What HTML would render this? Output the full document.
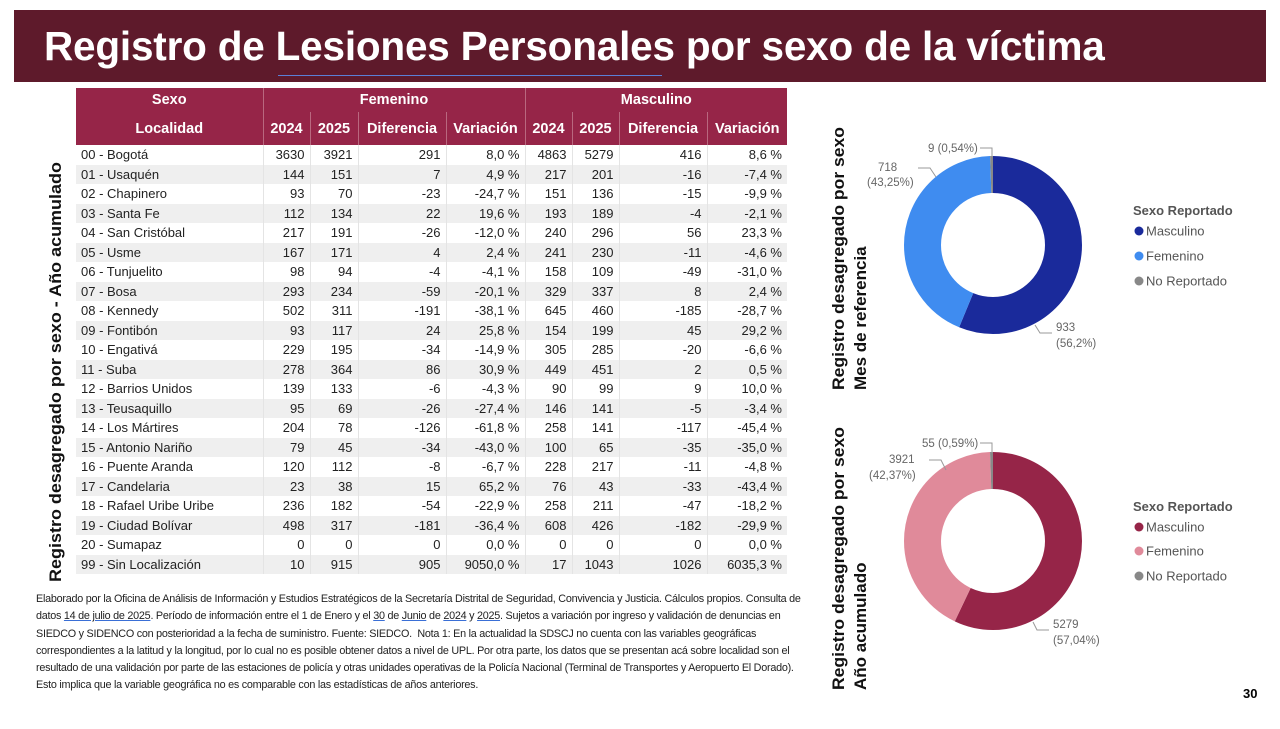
<!DOCTYPE html>
<html><head><meta charset="utf-8">
<style>
*{margin:0;padding:0;box-sizing:border-box}
body{width:1280px;height:729px;background:#fff;position:relative;overflow:hidden;font-family:"Liberation Sans",sans-serif}
.banner{position:absolute;left:14px;top:10px;width:1252px;height:72px;background:#5e1a2b}
.title{position:absolute;left:44px;top:23px;color:#fff;font-weight:bold;font-size:40.5px;white-space:nowrap;letter-spacing:-0.2px}
.uline{position:absolute;left:278px;top:75px;width:384px;height:1px;background:#5b7fd6}
table{position:absolute;left:76px;top:88px;border-collapse:collapse;font-size:13px;color:#222}
td,th{padding:0 5px;white-space:nowrap}
th{background:#962548;color:#fff;font-weight:bold;font-size:14.5px;height:24px}
thead tr:first-child th{height:24px}
thead tr:nth-child(2) th{height:33px;border-left:1px solid #b9687f}
tbody td{height:19.5px;text-align:right;border-left:1px solid #e4e4e4}
tbody td:first-child{text-align:left;border-left:none}
tbody tr:nth-child(even){background:#efefef}
.foot{position:absolute;left:36px;top:591px;font-size:10.8px;line-height:17.3px;color:#222;letter-spacing:-0.25px;white-space:nowrap}
.foot u{text-decoration-color:#3a6fd6}
.pg{position:absolute;left:1243px;top:686px;font-weight:bold;font-size:13px}
</style></head><body>
<div class="banner"></div>
<div class="title">Registro de Lesiones Personales por sexo de la víctima</div>
<div class="uline"></div>
<table>
<colgroup><col style="width:187px"><col style="width:47px"><col style="width:48px"><col style="width:88px"><col style="width:79px"><col style="width:47px"><col style="width:47px"><col style="width:88px"><col style="width:80px"></colgroup>
<thead>
<tr><th>Sexo</th><th colspan="4" style="border-left:1px solid #b9687f">Femenino</th><th colspan="4" style="border-left:1px solid #b9687f">Masculino</th></tr>
<tr><th style="border-left:none">Localidad</th><th>2024</th><th>2025</th><th>Diferencia</th><th>Variación</th><th>2024</th><th>2025</th><th>Diferencia</th><th>Variación</th></tr>
</thead>
<tbody>
<tr><td>00 - Bogotá</td><td>3630</td><td>3921</td><td>291</td><td>8,0 %</td><td>4863</td><td>5279</td><td>416</td><td>8,6 %</td></tr>
<tr><td>01 - Usaquén</td><td>144</td><td>151</td><td>7</td><td>4,9 %</td><td>217</td><td>201</td><td>-16</td><td>-7,4 %</td></tr>
<tr><td>02 - Chapinero</td><td>93</td><td>70</td><td>-23</td><td>-24,7 %</td><td>151</td><td>136</td><td>-15</td><td>-9,9 %</td></tr>
<tr><td>03 - Santa Fe</td><td>112</td><td>134</td><td>22</td><td>19,6 %</td><td>193</td><td>189</td><td>-4</td><td>-2,1 %</td></tr>
<tr><td>04 - San Cristóbal</td><td>217</td><td>191</td><td>-26</td><td>-12,0 %</td><td>240</td><td>296</td><td>56</td><td>23,3 %</td></tr>
<tr><td>05 - Usme</td><td>167</td><td>171</td><td>4</td><td>2,4 %</td><td>241</td><td>230</td><td>-11</td><td>-4,6 %</td></tr>
<tr><td>06 - Tunjuelito</td><td>98</td><td>94</td><td>-4</td><td>-4,1 %</td><td>158</td><td>109</td><td>-49</td><td>-31,0 %</td></tr>
<tr><td>07 - Bosa</td><td>293</td><td>234</td><td>-59</td><td>-20,1 %</td><td>329</td><td>337</td><td>8</td><td>2,4 %</td></tr>
<tr><td>08 - Kennedy</td><td>502</td><td>311</td><td>-191</td><td>-38,1 %</td><td>645</td><td>460</td><td>-185</td><td>-28,7 %</td></tr>
<tr><td>09 - Fontibón</td><td>93</td><td>117</td><td>24</td><td>25,8 %</td><td>154</td><td>199</td><td>45</td><td>29,2 %</td></tr>
<tr><td>10 - Engativá</td><td>229</td><td>195</td><td>-34</td><td>-14,9 %</td><td>305</td><td>285</td><td>-20</td><td>-6,6 %</td></tr>
<tr><td>11 - Suba</td><td>278</td><td>364</td><td>86</td><td>30,9 %</td><td>449</td><td>451</td><td>2</td><td>0,5 %</td></tr>
<tr><td>12 - Barrios Unidos</td><td>139</td><td>133</td><td>-6</td><td>-4,3 %</td><td>90</td><td>99</td><td>9</td><td>10,0 %</td></tr>
<tr><td>13 - Teusaquillo</td><td>95</td><td>69</td><td>-26</td><td>-27,4 %</td><td>146</td><td>141</td><td>-5</td><td>-3,4 %</td></tr>
<tr><td>14 - Los Mártires</td><td>204</td><td>78</td><td>-126</td><td>-61,8 %</td><td>258</td><td>141</td><td>-117</td><td>-45,4 %</td></tr>
<tr><td>15 - Antonio Nariño</td><td>79</td><td>45</td><td>-34</td><td>-43,0 %</td><td>100</td><td>65</td><td>-35</td><td>-35,0 %</td></tr>
<tr><td>16 - Puente Aranda</td><td>120</td><td>112</td><td>-8</td><td>-6,7 %</td><td>228</td><td>217</td><td>-11</td><td>-4,8 %</td></tr>
<tr><td>17 - Candelaria</td><td>23</td><td>38</td><td>15</td><td>65,2 %</td><td>76</td><td>43</td><td>-33</td><td>-43,4 %</td></tr>
<tr><td>18 - Rafael Uribe Uribe</td><td>236</td><td>182</td><td>-54</td><td>-22,9 %</td><td>258</td><td>211</td><td>-47</td><td>-18,2 %</td></tr>
<tr><td>19 - Ciudad Bolívar</td><td>498</td><td>317</td><td>-181</td><td>-36,4 %</td><td>608</td><td>426</td><td>-182</td><td>-29,9 %</td></tr>
<tr><td>20 - Sumapaz</td><td>0</td><td>0</td><td>0</td><td>0,0 %</td><td>0</td><td>0</td><td>0</td><td>0,0 %</td></tr>
<tr><td>99 - Sin Localización</td><td>10</td><td>915</td><td>905</td><td>9050,0 %</td><td>17</td><td>1043</td><td>1026</td><td>6035,3 %</td></tr>
</tbody></table>

<div class="foot">
Elaborado por la Oficina de Análisis de Información y Estudios Estratégicos de la Secretaría Distrital de Seguridad, Convivencia y Justicia. Cálculos propios. Consulta de<br>
datos <u>14 de julio de 2025</u>. Período de información entre el 1 de Enero y el <u>30</u> de <u>Junio</u> de <u>2024</u> y <u>2025</u>. Sujetos a variación por ingreso y validación de denuncias en<br>
SIEDCO y SIDENCO con posterioridad a la fecha de suministro. Fuente: SIEDCO.&nbsp; Nota 1: En la actualidad la SDSCJ no cuenta con las variables geográficas<br>
correspondientes a la latitud y la longitud, por lo cual no es posible obtener datos a nivel de UPL. Por otra parte, los datos que se presentan acá sobre localidad son el<br>
resultado de una validación por parte de las estaciones de policía y otras unidades operativas de la Policía Nacional (Terminal de Transportes y Aeropuerto El Dorado).<br>
Esto implica que la variable geográfica no es comparable con las estadísticas de años anteriores.
</div>
<div class="pg">30</div>

<svg width="1280" height="729" style="position:absolute;left:0;top:0" font-family="Liberation Sans, sans-serif">
<text transform="translate(61,582) rotate(-90)" font-size="17" font-weight="bold" fill="#111" textLength="420" lengthAdjust="spacingAndGlyphs">Registro desagregado por sexo - Año acumulado</text>
<text transform="translate(844,390) rotate(-90)" font-size="17" font-weight="bold" fill="#111" textLength="263" lengthAdjust="spacingAndGlyphs">Registro desagregado por sexo</text>
<text transform="translate(866,390) rotate(-90)" font-size="17" font-weight="bold" fill="#111">Mes de referencia</text>
<text transform="translate(844,690) rotate(-90)" font-size="17" font-weight="bold" fill="#111" textLength="263" lengthAdjust="spacingAndGlyphs">Registro desagregado por sexo</text>
<text transform="translate(866,690) rotate(-90)" font-size="17" font-weight="bold" fill="#111">Año acumulado</text>

<g transform="translate(993,245) rotate(-90)" fill="none" stroke-width="37">
<circle r="70.5" stroke="#1a2a9b" stroke-dasharray="248.9 500"/>
<circle r="70.5" stroke="#3f8cf0" stroke-dasharray="0 248.9 191.6 500"/>
<circle r="70.5" stroke="#888" stroke-dasharray="0 440.5 2.5 500"/>
</g>
<g font-size="11.5" fill="#666">
<text x="928" y="152">9 (0,54%)</text>
<text x="878" y="171">718</text><text x="867" y="186">(43,25%)</text>
<text x="1056" y="331">933</text><text x="1056" y="347">(56,2%)</text>
</g>
<g fill="none" stroke="#999" stroke-width="1">
<polyline points="980,148 992,148 992,157"/>
<polyline points="918,168 930,168 936,177"/>
<polyline points="1052,333 1040,333 1035,325"/>
</g>
<text x="1133" y="215" font-size="13" font-weight="bold" fill="#555">Sexo Reportado</text>
<circle cx="1139" cy="231" r="4.5" fill="#1a2a9b"/><text x="1146" y="235.5" font-size="13" fill="#555">Masculino</text>
<circle cx="1139" cy="256" r="4.5" fill="#3f8cf0"/><text x="1146" y="260.5" font-size="13" fill="#555">Femenino</text>
<circle cx="1139" cy="281" r="4.5" fill="#888"/><text x="1146" y="285.5" font-size="13" fill="#555">No Reportado</text>

<g transform="translate(993,541) rotate(-90)" fill="none" stroke-width="37">
<circle r="70.5" stroke="#962548" stroke-dasharray="252.7 500"/>
<circle r="70.5" stroke="#e08a9a" stroke-dasharray="0 252.7 187.7 500"/>
<circle r="70.5" stroke="#888" stroke-dasharray="0 440.4 2.6 500"/>
</g>
<g font-size="11.5" fill="#666">
<text x="922" y="447">55 (0,59%)</text>
<text x="889" y="463">3921</text><text x="869" y="479">(42,37%)</text>
<text x="1053" y="628">5279</text><text x="1053" y="644">(57,04%)</text>
</g>
<g fill="none" stroke="#999" stroke-width="1">
<polyline points="980,443 992,443 992,453"/>
<polyline points="929,460 941,460 946,470"/>
<polyline points="1049,630 1037,630 1033,622"/>
</g>
<text x="1133" y="511" font-size="13" font-weight="bold" fill="#555">Sexo Reportado</text>
<circle cx="1139" cy="527" r="4.5" fill="#962548"/><text x="1146" y="531.5" font-size="13" fill="#555">Masculino</text>
<circle cx="1139" cy="551" r="4.5" fill="#e08a9a"/><text x="1146" y="555.5" font-size="13" fill="#555">Femenino</text>
<circle cx="1139" cy="576" r="4.5" fill="#888"/><text x="1146" y="580.5" font-size="13" fill="#555">No Reportado</text>
</svg>
</body></html>
